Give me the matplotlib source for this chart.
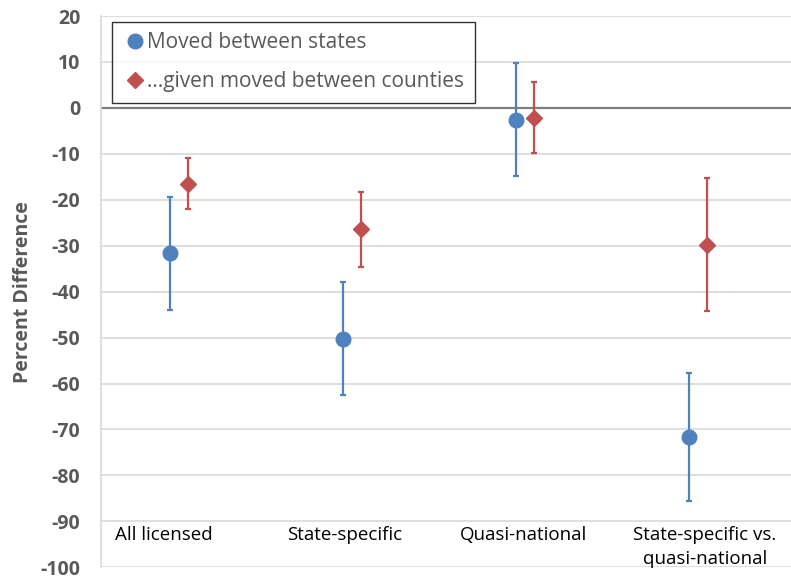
import numpy as np
import matplotlib.pyplot as plt
from matplotlib.lines import Line2D

categories = ['All licensed', 'State-specific', 'Quasi-national',
              'State-specific vs.\nquasi-national']

# point estimates with lower / upper confidence bounds
states = [-31.6, -50.2, -2.6, -71.6]
states_lo = [-43.9, -62.4, -14.8, -85.6]
states_hi = [-19.3, -37.9, 9.8, -57.6]

counties = [-16.5, -26.4, -2.1, -29.8]
counties_lo = [-22.0, -34.6, -9.9, -44.3]
counties_hi = [-11.0, -18.2, 5.6, -15.3]

blue = '#4F81BD'
red = '#C0504D'
grey = '#595959'

plt.rcParams['font.family'] = ['Open Sans', 'DejaVu Sans']
plt.rcParams['axes.unicode_minus'] = False

fig = plt.figure(figsize=(7.91, 5.78), dpi=100)
ax = fig.add_axes([0.1277, 0.0185, 0.8723, 0.9538])

x = np.arange(1, len(categories) + 1)
off = 0.052

s = np.array(states)
c = np.array(counties)
ax.errorbar(x - off, s, yerr=[s - np.array(states_lo), np.array(states_hi) - s],
            fmt='o', color=blue, ms=10.5, elinewidth=1.6, capsize=2, capthick=1.6,
            zorder=3)
ax.errorbar(x + off, c, yerr=[c - np.array(counties_lo), np.array(counties_hi) - c],
            fmt='D', color=red, ms=8.5, elinewidth=1.6, capsize=2, capthick=1.6,
            zorder=3)

ax.axhline(0, color='#7F7F7F', lw=1.6, zorder=2)

ax.set_xlim(0.549, 4.538)
ax.set_ylim(-100, 20)
ax.set_yticks(np.arange(-100, 21, 10))
ax.set_xticks([])
ax.grid(axis='y', color='#D9D9D9', lw=1.2)
ax.set_axisbelow(True)
for side in ['top', 'right', 'bottom']:
    ax.spines[side].set_visible(False)
ax.spines['left'].set_color('#D9D9D9')
ax.spines['left'].set_linewidth(1.2)
ax.tick_params(axis='y', length=0, pad=15, labelsize=14, labelcolor=grey)
for t in ax.get_yticklabels():
    t.set_fontweight('bold')

ax.set_ylabel('Percent Difference', fontsize=14, fontweight='bold', color=grey,
              labelpad=5)

# category names sit inside the plot near the bottom
label_x = [0.91, 1.96, 2.99, 4.04]
for xi, name in zip(label_x, categories):
    ax.text(xi, -91.0, name, ha='center', va='top', fontsize=13.5, color='black',
            linespacing=1.45)

handles = [
    Line2D([], [], ls='none', marker='o', ms=10.5, color=blue),
    Line2D([], [], ls='none', marker='D', ms=8.5, color=red),
]
labels = ['Moved between states', '\u2026given moved between counties']
leg = ax.legend(handles, labels, loc='upper left', bbox_to_anchor=(0.016, 0.989),
                borderaxespad=0, fontsize=15, frameon=True, fancybox=False,
                handletextpad=0.0, handlelength=1.2, borderpad=0.5,
                labelspacing=0.85, labelcolor=grey)
leg.get_frame().set_edgecolor('black')
leg.get_frame().set_linewidth(1.0)

fig.savefig('out.png', dpi=100)
